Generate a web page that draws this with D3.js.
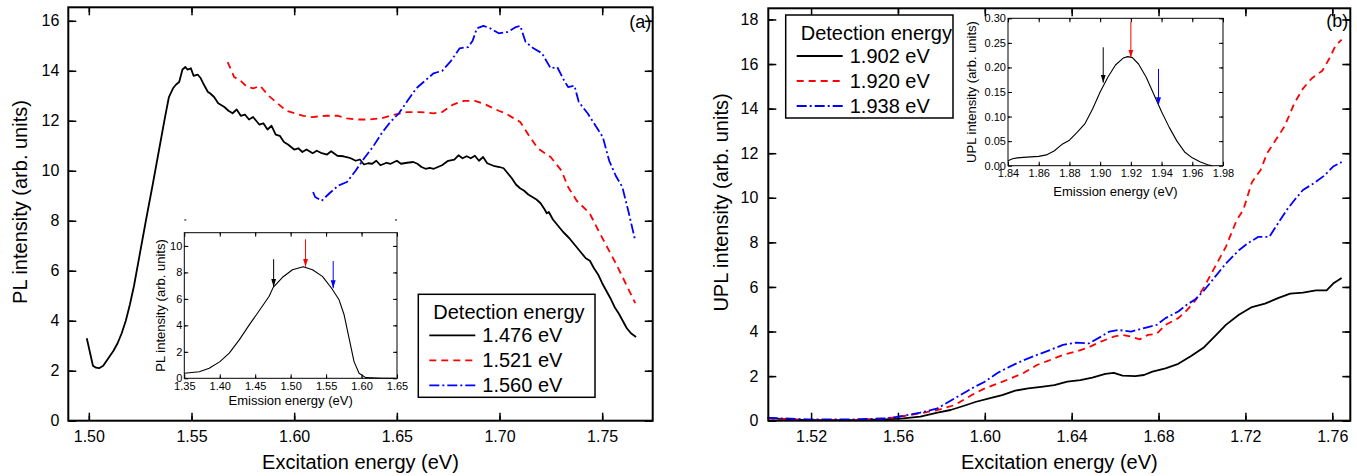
<!DOCTYPE html>
<html>
<head>
<meta charset="utf-8">
<title>PL / UPL excitation spectra</title>
<script src="https://d3js.org/d3.v7.min.js"></script>
<style>
  body { margin: 0; background: #fff; font-family: "Liberation Sans", Arial, sans-serif; }
  text { fill: #000; }
  .frame { fill: none; stroke: #000; stroke-width: 2; }
  .tick line { stroke: #000; stroke-width: 1.5; }
  .inset .frame { stroke-width: 1; }
  .inset .tick line { stroke-width: 1; }
  .curve { fill: none; stroke-width: 1.8; stroke-linejoin: round; }
  .inset .curve { stroke-width: 1.1; }
</style>
</head>
<body>
<script>
// ---- panel (a): PL excitation, detection at 1.476 / 1.521 / 1.560 eV
var aBlackX = [1.499,1.5005,1.502,1.5035,1.505,1.507,1.5095,1.512,1.514,1.516,1.518,1.520,1.522,1.524,1.526,1.528,1.531,1.533,1.535,1.537,1.539,1.541,1.5425,1.544,1.5456,1.547,1.548,1.5497,1.551,1.553,1.5545,1.556,1.558,1.559,1.561,1.563,1.566,1.568,1.570,1.572,1.574,1.576,1.578,1.580,1.583,1.585,1.587,1.589,1.591,1.593,1.595,1.597,1.600,1.602,1.604,1.606,1.609,1.611,1.613,1.616,1.618,1.621,1.624,1.627,1.630,1.632,1.634,1.636,1.638,1.640,1.642,1.645,1.647,1.650,1.652,1.655,1.658,1.660,1.662,1.664,1.666,1.668,1.670,1.672,1.675,1.678,1.680,1.682,1.684,1.686,1.688,1.690,1.692,1.694,1.697,1.700,1.702,1.704,1.706,1.708,1.710,1.712,1.714,1.716,1.718,1.720,1.722,1.723,1.724,1.726,1.728,1.731,1.734,1.737,1.740,1.742,1.744,1.746,1.748,1.750,1.752,1.754,1.756,1.758,1.760,1.762,1.764,1.7665];
var aBlackY = [3.30,2.75,2.20,2.12,2.10,2.20,2.50,2.80,3.10,3.50,4.00,4.65,5.40,6.30,7.20,8.10,9.40,10.30,11.20,12.10,12.95,13.30,13.45,13.55,14.05,14.15,14.05,14.10,13.80,13.85,13.70,13.45,13.15,13.10,12.95,12.70,12.55,12.40,12.30,12.45,12.20,12.25,12.05,12.15,11.85,11.90,11.65,11.80,11.45,11.40,11.15,11.05,10.85,10.90,10.75,10.85,10.70,10.80,10.72,10.65,10.78,10.60,10.58,10.52,10.40,10.45,10.25,10.30,10.28,10.40,10.22,10.32,10.28,10.40,10.28,10.32,10.35,10.28,10.15,10.08,10.12,10.08,10.15,10.22,10.40,10.45,10.62,10.50,10.58,10.50,10.60,10.40,10.55,10.30,10.20,10.15,10.10,9.90,9.70,9.45,9.30,9.20,9.05,8.95,8.85,8.70,8.45,8.30,8.35,8.05,7.85,7.55,7.30,7.00,6.70,6.50,6.40,6.10,5.85,5.50,5.20,4.90,4.55,4.30,4.00,3.70,3.50,3.35];
var aRedX = [1.5676,1.5708,1.5739,1.5771,1.5803,1.5834,1.5876,1.5919,1.5961,1.6003,1.6045,1.6088,1.6151,1.6214,1.6257,1.6299,1.6362,1.6426,1.6489,1.6552,1.6616,1.6679,1.6721,1.6774,1.6827,1.688,1.6932,1.6996,1.7028,1.7101,1.7144,1.7186,1.7249,1.7302,1.7334,1.7376,1.7439,1.7482,1.7524,1.7566,1.7608,1.7661];
var aRedY = [14.35,13.75,13.60,13.35,13.30,13.40,13.00,12.70,12.40,12.30,12.20,12.15,12.20,12.20,12.10,12.05,12.05,12.10,12.25,12.35,12.35,12.30,12.35,12.65,12.80,12.80,12.65,12.40,12.30,11.95,11.40,10.90,10.55,10.00,9.35,8.80,8.30,7.60,6.95,6.30,5.60,4.70];
var aBlueX = [1.6092,1.6102,1.6134,1.6172,1.6214,1.6257,1.6299,1.6341,1.6383,1.6426,1.6468,1.651,1.6552,1.6595,1.6637,1.6679,1.6721,1.6764,1.6806,1.6848,1.6869,1.689,1.6922,1.6954,1.6996,1.7038,1.708,1.7101,1.7127,1.7165,1.7207,1.7249,1.7281,1.7312,1.7334,1.7365,1.7386,1.7429,1.746,1.7503,1.7534,1.7566,1.7598,1.763,1.7661];
var aBlueY = [9.15,8.95,8.80,9.10,9.40,9.55,10.00,10.50,10.95,11.50,11.95,12.30,12.80,13.30,13.60,13.90,14.00,14.40,14.90,14.95,15.20,15.70,15.80,15.70,15.50,15.55,15.75,15.80,15.15,14.90,14.70,14.10,14.15,13.65,13.35,13.40,12.75,12.30,11.90,11.35,10.40,9.80,9.35,8.30,7.20];
var aLegend = ["1.476 eV", "1.521 eV", "1.560 eV"];

// inset (a): PL spectrum
var insAX = [1.35,1.3711,1.3852,1.4002,1.4134,1.4275,1.4416,1.4556,1.4697,1.4754,1.4885,1.5026,1.5176,1.5308,1.5448,1.5575,1.5683,1.5754,1.5824,1.5894,1.5965,1.6059,1.6294,1.6481];
var insAY = [0.38,0.50,0.76,1.26,1.90,2.90,4.04,5.10,6.20,6.87,7.63,8.20,8.43,8.20,7.70,6.82,5.93,4.80,3.03,1.26,0.38,0.05,0.00,0.00];
var insAArrowX = [1.476, 1.521, 1.560];
var insAArrowFrom = [9.0, 10.5, 8.86];
var insAArrowTo = [6.92, 8.43, 6.8];

// ---- panel (b): UPL excitation, detection at 1.902 / 1.920 / 1.938 eV
var bBlackX = [1.500,1.509,1.5188,1.5386,1.5545,1.5624,1.5703,1.5782,1.5842,1.5901,1.596,1.602,1.608,1.614,1.620,1.626,1.632,1.638,1.644,1.6495,1.6555,1.6594,1.6634,1.6693,1.6733,1.6772,1.6832,1.6891,1.695,1.701,1.707,1.711,1.717,1.723,1.729,1.735,1.7406,1.7465,1.7525,1.7574,1.7604,1.7643];
var bBlackY = [0.13,0.06,0.03,0.03,0.06,0.10,0.18,0.36,0.48,0.66,0.85,1.00,1.15,1.35,1.45,1.52,1.60,1.75,1.82,1.93,2.10,2.15,2.02,2.00,2.05,2.20,2.35,2.55,2.90,3.30,3.90,4.30,4.75,5.10,5.25,5.50,5.70,5.75,5.85,5.85,6.15,6.40];
var bRedX = [1.500,1.5188,1.5386,1.5545,1.5624,1.5703,1.5782,1.5861,1.594,1.600,1.606,1.612,1.618,1.624,1.630,1.636,1.642,1.648,1.6535,1.6594,1.6634,1.6673,1.6713,1.6752,1.6792,1.6832,1.6891,1.693,1.697,1.701,1.706,1.711,1.716,1.719,1.723,1.727,1.730,1.734,1.738,1.7426,1.7465,1.7505,1.7554,1.7584,1.7614,1.7643];
var bRedY = [0.10,0.03,0.03,0.10,0.20,0.33,0.48,0.70,1.15,1.45,1.67,1.90,2.15,2.50,2.72,2.95,3.10,3.30,3.55,3.77,3.85,3.77,3.65,3.85,3.90,4.30,4.60,4.95,5.40,6.00,6.90,7.80,9.00,9.45,10.70,11.25,12.00,12.60,13.20,14.25,14.90,15.35,15.70,16.20,16.80,17.10];
var bBlueX = [1.500,1.5188,1.5386,1.5545,1.5624,1.5703,1.5782,1.5861,1.594,1.600,1.606,1.612,1.618,1.624,1.630,1.636,1.642,1.648,1.6535,1.6574,1.6614,1.6673,1.6713,1.6752,1.6792,1.6832,1.6891,1.693,1.697,1.701,1.706,1.711,1.717,1.721,1.726,1.731,1.735,1.739,1.7426,1.7465,1.7515,1.7564,1.7604,1.7643];
var bBlueY = [0.13,0.06,0.06,0.10,0.22,0.36,0.55,1.00,1.45,1.75,2.15,2.45,2.72,2.95,3.17,3.40,3.50,3.47,3.77,4.00,4.07,4.00,4.10,4.20,4.30,4.60,4.90,5.20,5.45,5.85,6.45,7.05,7.65,7.95,8.25,8.25,8.85,9.45,9.90,10.35,10.65,11.00,11.40,11.60];
var bLegend = ["1.902 eV", "1.920 eV", "1.938 eV"];

// inset (b): UPL spectrum
var insBX = [1.840,1.843,1.846,1.850,1.855,1.860,1.865,1.870,1.875,1.880,1.885,1.890,1.895,1.900,1.905,1.910,1.915,1.918,1.921,1.925,1.930,1.935,1.940,1.945,1.950,1.955,1.960,1.965,1.970,1.973];
var insBY = [0.010,0.014,0.016,0.017,0.018,0.019,0.022,0.030,0.043,0.052,0.068,0.085,0.115,0.150,0.180,0.205,0.219,0.222,0.220,0.207,0.180,0.145,0.110,0.078,0.050,0.028,0.016,0.008,0.002,0.000];
var insBArrowX = [1.902, 1.920, 1.938];
var insBArrowFrom = [0.241, 0.293, 0.197];
var insBArrowTo = [0.169, 0.220, 0.123];

var colors = ["#000000", "#ff0000", "#0000ff"];
var dashes = [null, "7,5", "10,3,2,3"];

var svg = d3.select("body").append("svg")
    .attr("width", 1357)
    .attr("height", 476)
    .style("background", "#fff");

var defs = svg.append("defs");
colors.forEach(function (c, i) {
    defs.append("marker")
        .attr("id", "arrow" + i)
        .attr("markerUnits", "userSpaceOnUse")
        .attr("markerWidth", 8).attr("markerHeight", 6)
        .attr("refX", 8).attr("refY", 3)
        .attr("orient", "auto")
        .append("path")
        .attr("d", "M0,0.5 L8,3 L0,5.5 Z")
        .attr("fill", c);
});

function steps(a, b, s) {
    return d3.range(Math.round(a / s), Math.round(b / s) + 1).map(function (i) {
        return +(i * s).toFixed(4);
    });
}

function zip(xs, ys) {
    return xs.map(function (v, i) { return [v, ys[i]]; });
}

// a plot box with inward ticks on all four sides
function makeFrame(o) {
    var g = svg.append("g")
        .attr("class", o.cls || "")
        .attr("transform", "translate(" + o.left + "," + o.top + ")");
    var x = d3.scaleLinear().domain(o.xDomain).range([0, o.width]);
    var y = d3.scaleLinear().domain(o.yDomain).range([o.height, 0]);

    g.append("rect").attr("width", o.width).attr("height", o.height).attr("fill", "#fff");

    function add(axis, tr, labels) {
        var a = g.append("g").attr("transform", tr).call(axis);
        a.select(".domain").remove();
        a.attr("font-family", null).attr("font-size", o.font);
        if (!labels) a.selectAll("text").remove();
        return a;
    }
    var bottom = "translate(0," + o.height + ")", right = "translate(" + o.width + ",0)";
    add(d3.axisBottom(x).tickValues(o.xMajor).tickSize(-o.major).tickPadding(o.xPad).tickFormat(d3.format(o.xFmt)), bottom, true);
    add(d3.axisBottom(x).tickValues(o.xMinor).tickSize(-o.minor), bottom, false);
    add(d3.axisTop(x).tickValues(o.xMajor).tickSize(-o.major), "", false);
    add(d3.axisTop(x).tickValues(o.xMinor).tickSize(-o.minor), "", false);
    add(d3.axisLeft(y).tickValues(o.yMajor).tickSize(-o.major).tickPadding(o.yPad).tickFormat(d3.format(o.yFmt)), "", true);
    add(d3.axisLeft(y).tickValues(o.yMinor).tickSize(-o.minor), "", false);
    add(d3.axisRight(y).tickValues(o.yMajor).tickSize(-o.major), right, false);
    add(d3.axisRight(y).tickValues(o.yMinor).tickSize(-o.minor), right, false);

    g.append("text")
        .attr("x", o.width / 2).attr("y", o.xTitleY)
        .attr("text-anchor", "middle").attr("font-size", o.titleFont)
        .text(o.xTitle);
    g.append("text")
        .attr("transform", "translate(" + o.yTitleX + "," + (o.height / 2 - (o.yTitleShift || 0)) + ") rotate(-90)")
        .attr("dy", "0.35em")
        .attr("text-anchor", "middle").attr("font-size", o.titleFont)
        .text(o.yTitle);
    return { g: g, x: x, y: y, o: o };
}

function drawCurves(p, series) {
    var line = d3.line().x(function (d) { return p.x(d[0]); }).y(function (d) { return p.y(d[1]); });
    series.forEach(function (s, i) {
        p.g.append("path")
            .datum(s)
            .attr("class", "curve")
            .attr("stroke", colors[i])
            .attr("stroke-dasharray", dashes[i])
            .attr("d", line);
    });
}

function closeFrame(p) {
    p.g.append("rect").attr("class", "frame").attr("width", p.o.width).attr("height", p.o.height);
}

function drawArrows(p, xs, from, to) {
    xs.forEach(function (v, i) {
        p.g.append("line")
            .attr("x1", p.x(v)).attr("x2", p.x(v))
            .attr("y1", p.y(from[i])).attr("y2", p.y(to[i]))
            .attr("stroke", colors[i]).attr("stroke-width", 1)
            .attr("marker-end", "url(#arrow" + i + ")");
    });
}

function drawLegend(bx, by, bw, bh, labels) {
    var g = svg.append("g").attr("transform", "translate(" + bx + "," + by + ")");
    g.append("rect").attr("width", bw).attr("height", bh)
        .attr("fill", "#fff").attr("stroke", "#000").attr("stroke-width", 1.5);
    g.append("text").attr("x", 15).attr("y", 24.5).attr("font-size", 20).text("Detection energy");
    labels.forEach(function (t, i) {
        var cy = 41 + i * 25;
        g.append("line")
            .attr("x1", 11).attr("x2", 57).attr("y1", cy).attr("y2", cy)
            .attr("stroke", colors[i]).attr("stroke-width", 1.8)
            .attr("stroke-dasharray", dashes[i]);
        g.append("text").attr("x", 64).attr("y", cy + 7).attr("font-size", 20).text(t);
    });
}

// ---------- panel (a)
var pa = makeFrame({
    left: 68.3, top: 7.3, width: 584.4, height: 413.4,
    xDomain: [1.49, 1.7746], yDomain: [0, 16.54],
    xMajor: steps(1.50, 1.75, 0.05), xMinor: steps(1.525, 1.775, 0.05),
    yMajor: steps(0, 16, 2), yMinor: steps(1, 15, 2),
    xFmt: ".2f", yFmt: "d", major: 8, minor: 5, xPad: 10, yPad: 9, font: 16,
    xTitle: "Excitation energy (eV)", xTitleY: 461.5, yTitle: "PL intensity (arb. units)",
    yTitleX: -48.5, yTitleShift: 12, titleFont: 20
});
drawCurves(pa, [zip(aBlackX, aBlackY), zip(aRedX, aRedY), zip(aBlueX, aBlueY)]);
closeFrame(pa);
pa.g.append("text").attr("x", 583).attr("y", 20.5).attr("text-anchor", "end").attr("font-size", 18).text("(a)");

var ia = makeFrame({
    cls: "inset", left: 184.3, top: 232.7, width: 212.7, height: 145.6,
    xDomain: [1.35, 1.65], yDomain: [0, 11],
    xMajor: steps(1.35, 1.65, 0.05), xMinor: steps(1.375, 1.625, 0.05),
    yMajor: steps(0, 10, 2), yMinor: steps(1, 11, 2),
    xFmt: ".2f", yFmt: "d", major: 4, minor: 2, xPad: 4, yPad: 2, font: 11,
    xTitle: "Emission energy (eV)", xTitleY: 172, yTitle: "PL intensity (arb. units)",
    yTitleX: -23.5, titleFont: 13
});
drawCurves(ia, [zip(insAX, insAY)]);
closeFrame(ia);
drawArrows(ia, insAArrowX, insAArrowFrom, insAArrowTo);

drawLegend(418.3, 294.3, 176.7, 103, aLegend);

// ---------- panel (b)
var pb = makeFrame({
    left: 768.3, top: 8.3, width: 582, height: 412.4,
    xDomain: [1.5003, 1.7683], yDomain: [0, 18.5],
    xMajor: steps(1.52, 1.76, 0.04), xMinor: steps(1.54, 1.74, 0.04),
    yMajor: steps(0, 18, 2), yMinor: steps(1, 17, 2),
    xFmt: ".2f", yFmt: "d", major: 8, minor: 5, xPad: 10, yPad: 10, font: 16,
    xTitle: "Excitation energy (eV)", xTitleY: 460.5, yTitle: "UPL intensity (arb. units)",
    yTitleX: -47.3, yTitleShift: 12, titleFont: 20
});
drawCurves(pb, [zip(bBlackX, bBlackY), zip(bRedX, bRedY), zip(bBlueX, bBlueY)]);
closeFrame(pb);
pb.g.append("text").attr("x", 580).attr("y", 19).attr("text-anchor", "end").attr("font-size", 18).text("(b)");

var ib = makeFrame({
    cls: "inset", left: 1008, top: 18.3, width: 215, height: 147.4,
    xDomain: [1.84, 1.98], yDomain: [0, 0.30],
    xMajor: steps(1.84, 1.98, 0.02), xMinor: steps(1.85, 1.97, 0.02),
    yMajor: steps(0, 0.30, 0.05), yMinor: steps(0.025, 0.275, 0.05),
    xFmt: ".2f", yFmt: ".2f", major: 4, minor: 2, xPad: 4, yPad: 2, font: 11,
    xTitle: "Emission energy (eV)", xTitleY: 178, yTitle: "UPL intensity (arb. units)",
    yTitleX: -37, titleFont: 13
});
drawCurves(ib, [zip(insBX, insBY)]);
closeFrame(ib);
drawArrows(ib, insBArrowX, insBArrowFrom, insBArrowTo);

drawLegend(785.7, 15, 167.3, 103, bLegend);
</script>
</body>
</html>
